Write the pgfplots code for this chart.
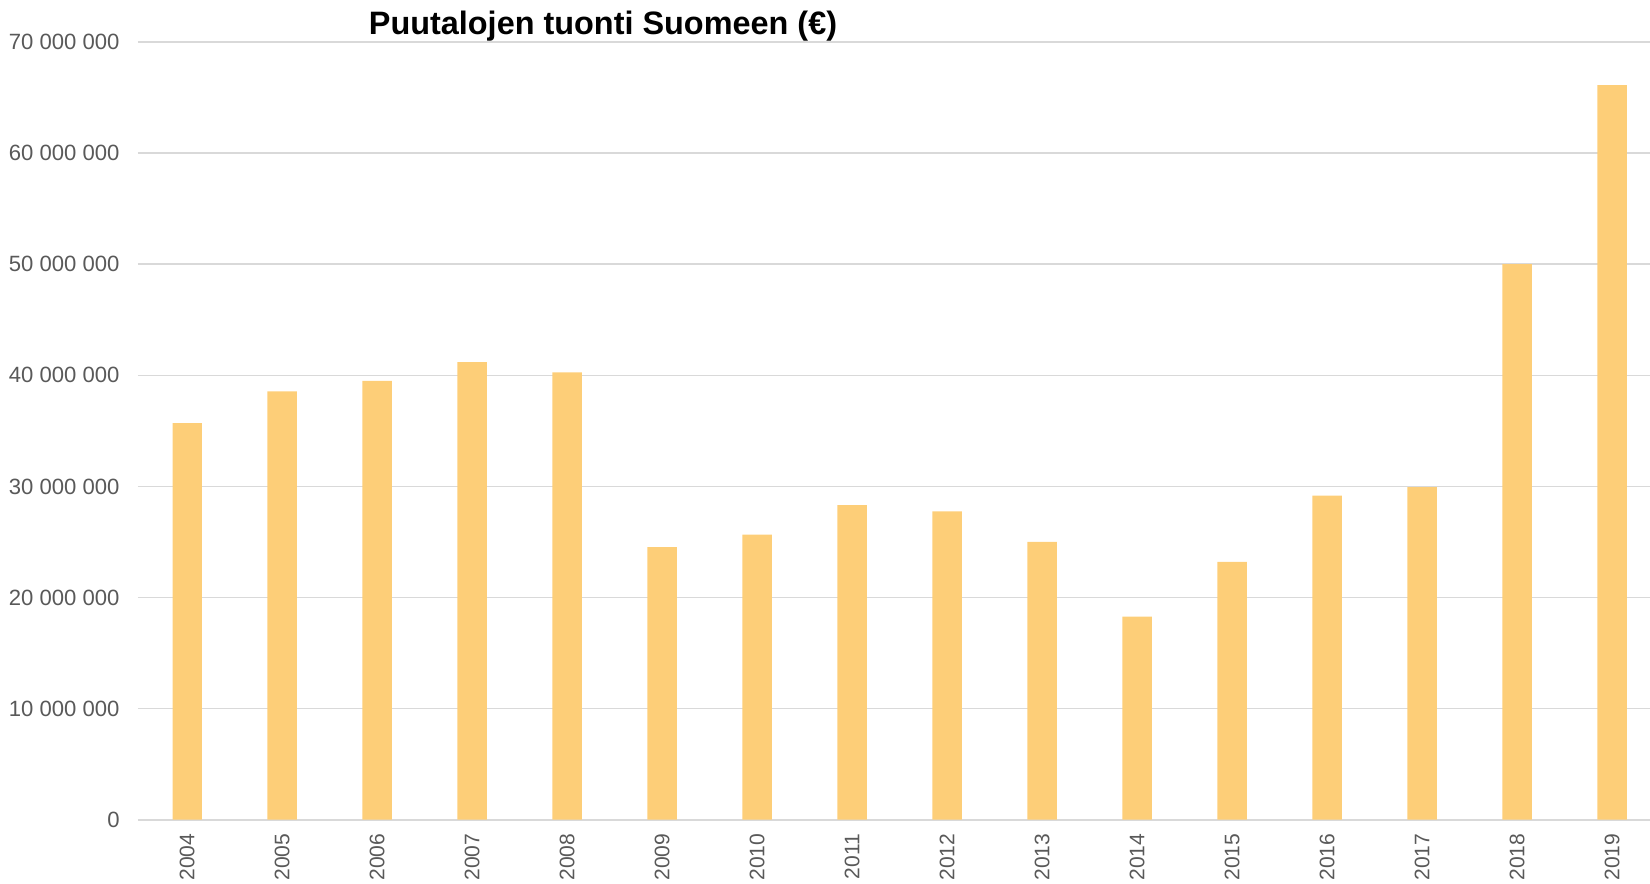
\documentclass[border=0pt]{standalone}
\usepackage{pgfplots}
\pgfplotsset{compat=1.18}
\usepackage{fontspec}
\setmainfont{Liberation Sans}
\definecolor{barc}{HTML}{FDCE78}
\definecolor{gridc}{HTML}{D9D9D9}
\definecolor{txtc}{HTML}{595959}
\begin{document}
\begin{tikzpicture}
\path[use as bounding box] (-65.5pt,-30.5pt) rectangle (718.5pt,389.5pt);
\begin{axis}[
  at={(0,0)}, anchor=south west,
  scale only axis, width=718.5pt, height=369.5pt,
  xmin=-0.52, xmax=15.40, ymin=0, ymax=70000000,
  axis line style={draw=none},
  ybar, bar width=14pt,
  scaled y ticks=false,
  xtick={0,...,15},
  xticklabels={2004,2005,2006,2007,2008,2009,2010,2011,2012,2013,2014,2015,2016,2017,2018,2019},
  x tick label style={rotate=90, anchor=east, font=\fontsize{10}{12}\selectfont, text=txtc, inner sep=0pt},
  ytick={0,10000000,20000000,30000000,40000000,50000000,60000000,70000000},
  yticklabels={0,10 000 000,20 000 000,30 000 000,40 000 000,50 000 000,60 000 000,70 000 000},
  y tick label style={font=\fontsize{10.5}{12}\selectfont, text=txtc, inner sep=0pt},
  xtick style={draw=none}, ytick style={draw=none},
  major tick length=0pt,
  xticklabel shift=6.5pt, yticklabel shift=8.5pt,
  ymajorgrids, grid style={gridc, line width=0.8pt},
  clip=false,
]
\addplot[fill=barc, draw=none] coordinates {
(0,35710000) (1,38550000) (2,39500000) (3,41200000) (4,40260000)
(5,24530000) (6,25670000) (7,28320000) (8,27750000) (9,25010000)
(10,18280000) (11,23210000) (12,29170000) (13,29930000) (14,50010000) (15,66120000)};
\end{axis}
\node[font=\bfseries\fontsize{15.4}{18}\selectfont] at (221pt,377pt) {Puutalojen tuonti Suomeen (€)};
\end{tikzpicture}
\end{document}
